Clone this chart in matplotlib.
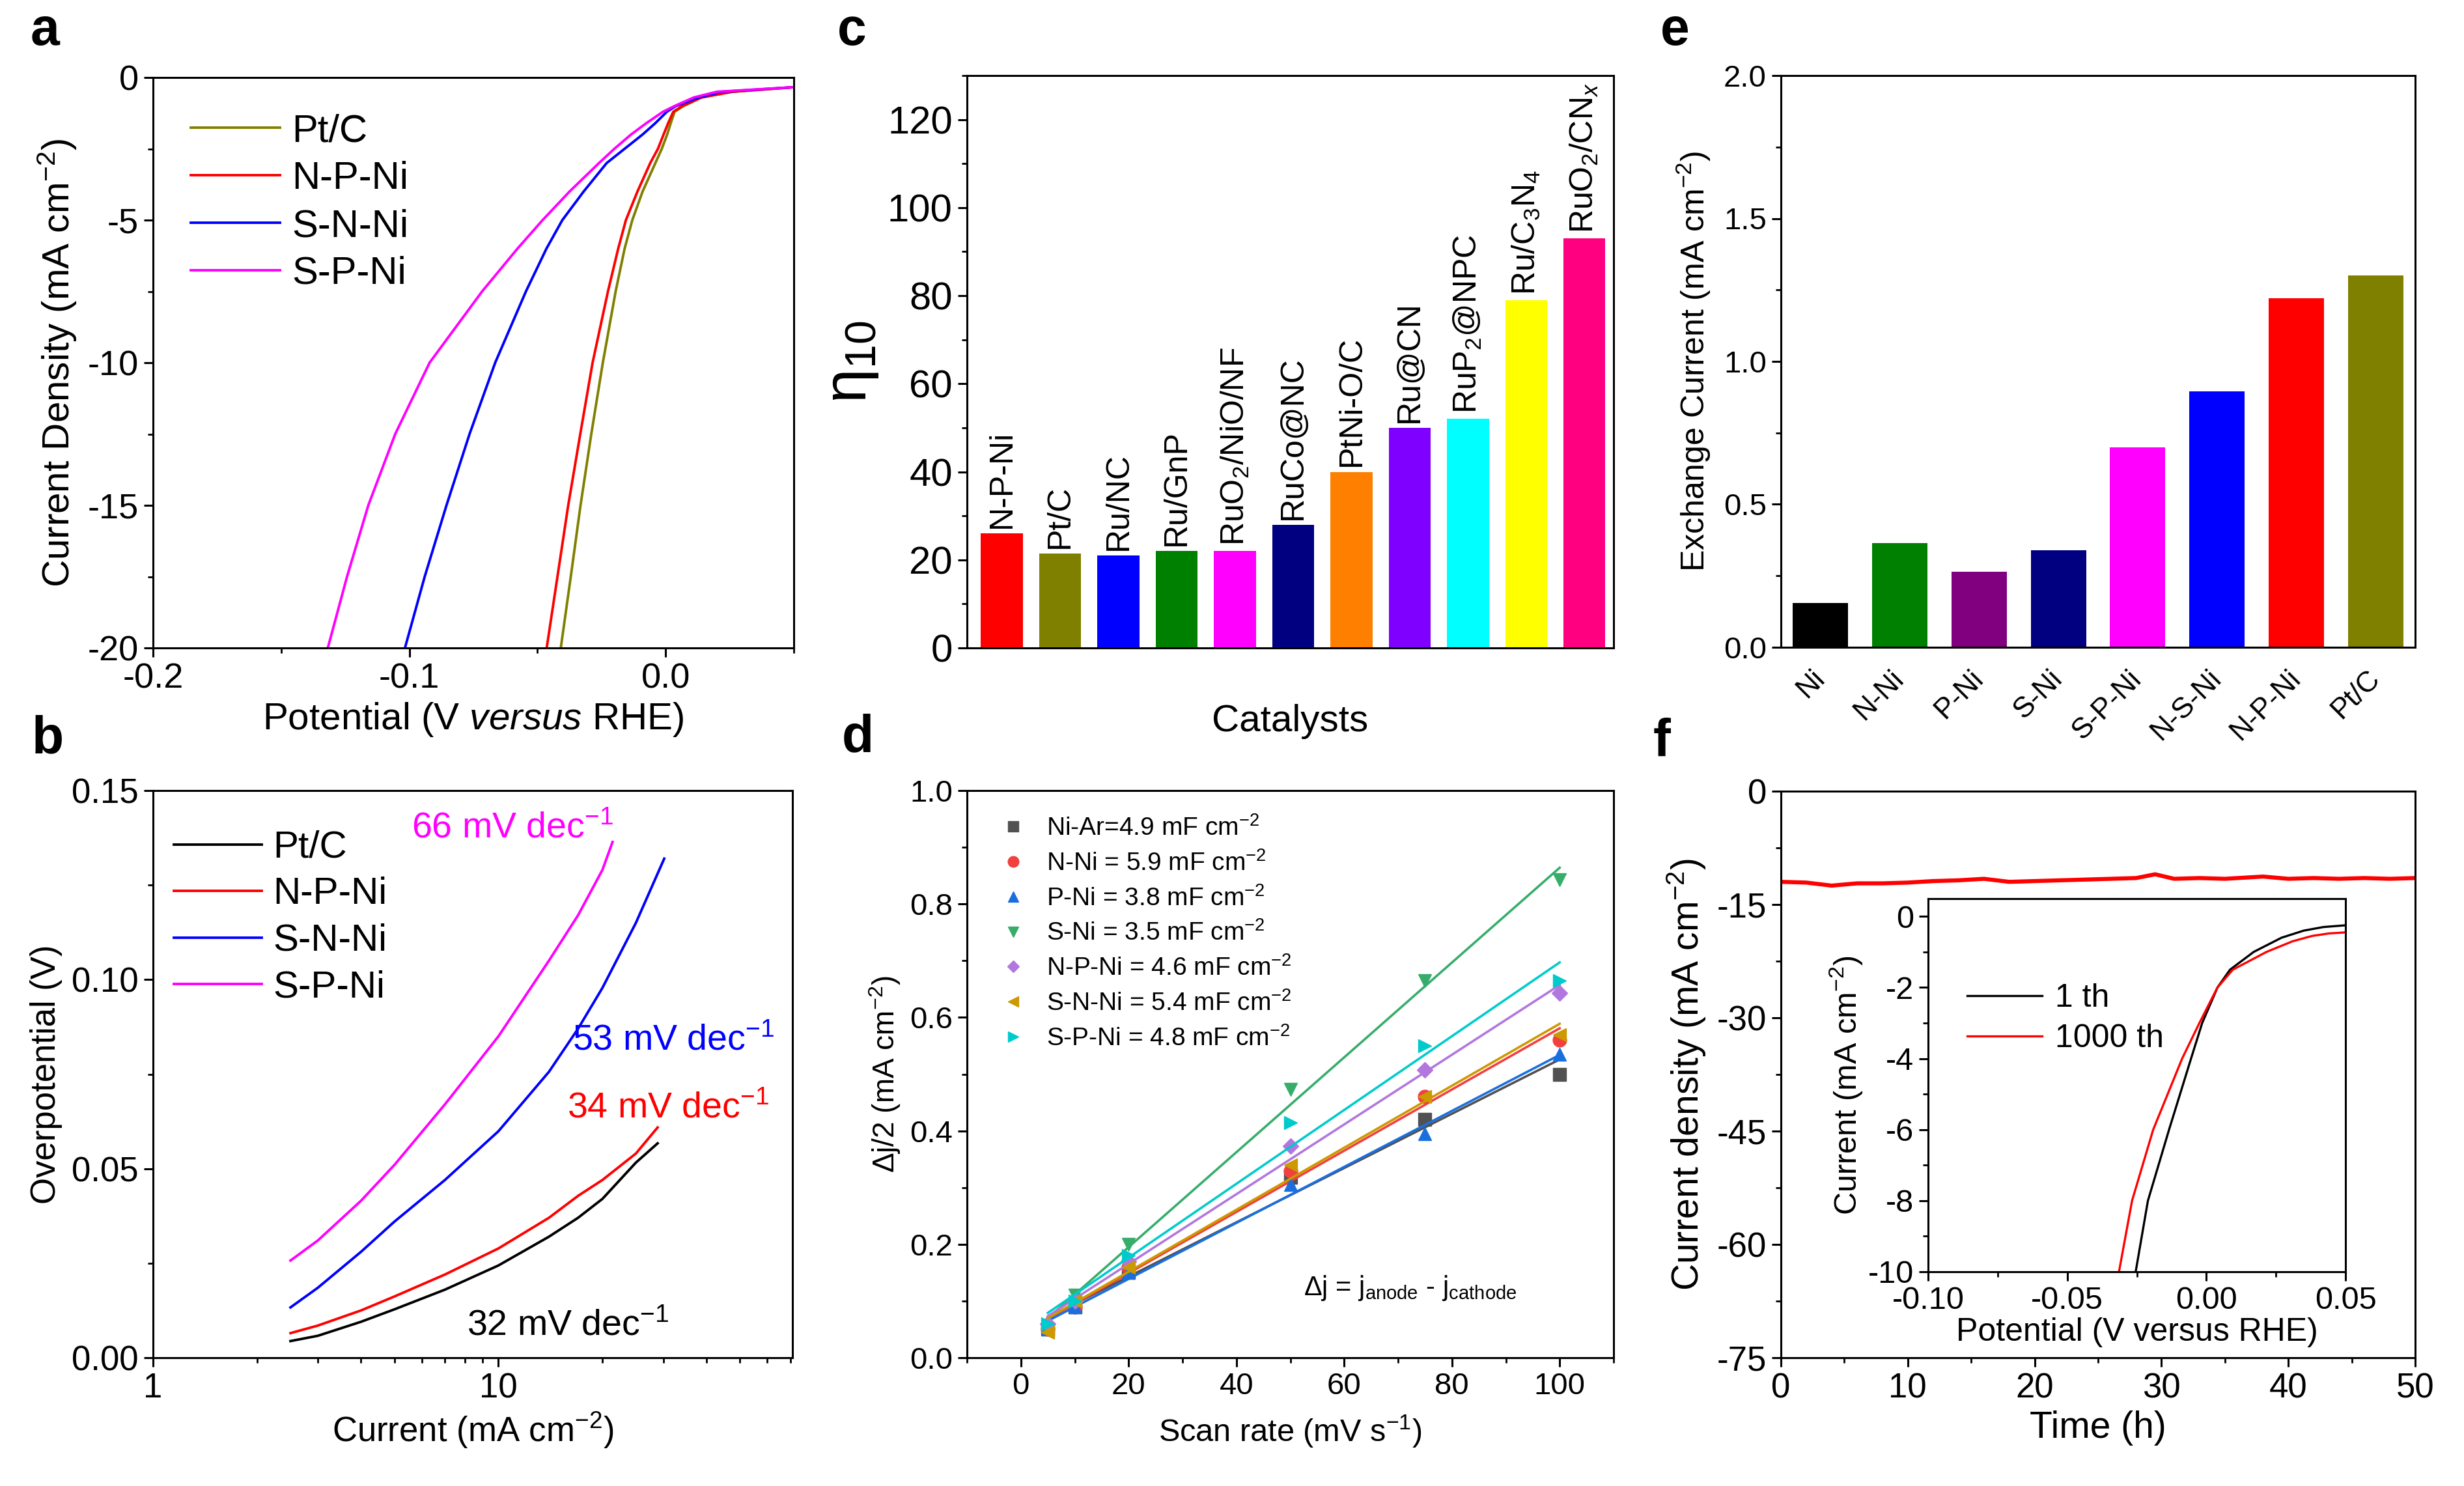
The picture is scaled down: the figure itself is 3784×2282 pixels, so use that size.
import numpy as np
import matplotlib.pyplot as plt
from matplotlib.ticker import MultipleLocator, LogLocator, NullFormatter

plt.rcParams['font.family'] = ['Liberation Sans', 'DejaVu Sans']
plt.rcParams['mathtext.fontset'] = 'custom'
plt.rcParams['mathtext.rm'] = 'Liberation Sans'
plt.rcParams['mathtext.it'] = 'Liberation Sans:italic'
plt.rcParams['mathtext.bf'] = 'Liberation Sans:bold'
plt.rcParams['axes.linewidth'] = 2.2
plt.rcParams['axes.unicode_minus'] = False

# ---- panel a: polarisation curves
a_names = ['Pt/C', 'N-P-Ni', 'S-N-Ni', 'S-P-Ni']
a_colors = ['#808000', '#FF0000', '#0000FF', '#FF00FF']
a_current = [-0.34, -0.5, -0.7, -1.0, -1.2, -1.6, -2, -2.5, -3, -4, -5, -6, -7.5, -10, -12.5, -15, -17.5, -20]
a_pt_c = [0.05, 0.026, 0.014, 0.007, 0.0035, 0.002, 0.0006, -0.0015, -0.004, -0.009, -0.013, -0.016,
          -0.0195, -0.0245, -0.029, -0.0332, -0.037, -0.0409]
a_npni = [0.05, 0.026, 0.014, 0.0065, 0.003, 0.001, -0.0008, -0.003, -0.006, -0.011, -0.0155, -0.0185,
          -0.0225, -0.0285, -0.0333, -0.038, -0.0422, -0.0464]
a_snni = [0.05, 0.022, 0.013, 0.004, 0.0005, -0.004, -0.009, -0.016, -0.023, -0.032, -0.0403, -0.0465,
          -0.0545, -0.0665, -0.0765, -0.0855, -0.094, -0.1017]
a_spni = [0.05, 0.02, 0.011, 0.0035, -0.001, -0.0075, -0.0135, -0.020, -0.026, -0.0375, -0.048, -0.0578,
          -0.0716, -0.0921, -0.1055, -0.116, -0.1243, -0.1318]

# ---- panel b: Tafel plots
b_names = ['Pt/C', 'N-P-Ni', 'S-N-Ni', 'S-P-Ni']
b_colors = ['#000000', '#FF0000', '#0000FF', '#FF00FF']
b_x_pt_c = [2.5, 3, 4, 5, 7, 10, 14, 17, 20, 25, 28.9]
b_y_pt_c = [0.0044, 0.0058, 0.0095, 0.0128, 0.018, 0.0244, 0.032, 0.037, 0.042, 0.0516, 0.0567]
b_x_npni = [2.5, 3, 4, 5, 7, 10, 14, 17, 20, 25, 28.9]
b_y_npni = [0.0065, 0.0085, 0.0125, 0.0162, 0.022, 0.0289, 0.037, 0.0428, 0.047, 0.054, 0.0609]
b_x_snni = [2.5, 3, 4, 5, 7, 10, 14, 17, 20, 25, 30.2]
b_y_snni = [0.0133, 0.0185, 0.028, 0.036, 0.047, 0.0599, 0.0756, 0.087, 0.0978, 0.115, 0.132]
b_x_spni = [2.5, 3, 4, 5, 7, 10, 14, 17, 20, 21.4]
b_y_spni = [0.0257, 0.031, 0.0415, 0.051, 0.067, 0.085, 0.105, 0.117, 0.129, 0.1364]
b_slopes = ['66', '53', '34', '32']
b_slope_pos = [(5.6, 0.140, '#FF00FF'), (16.4, 0.0838, '#0000FF'), (15.8, 0.066, '#FF0000'), (8.1, 0.0085, '#000000')]

# ---- panel c: overpotential at 10 mA cm-2
c_cats = ['N-P-Ni', 'Pt/C', 'Ru/NC', 'Ru/GnP', 'RuO$_2$/NiO/NF', 'RuCo@NC', 'PtNi-O/C',
          'Ru@CN', 'RuP$_2$@NPC', 'Ru/C$_3$N$_4$', 'RuO$_2$/CN$_x$']
c_vals = [26, 21.5, 21, 22, 22, 28, 40, 50, 52, 79, 93]
c_colors = ['#FF0000', '#808000', '#0000FF', '#008000', '#FF00FF', '#000080', '#FF8000',
            '#8000FF', '#00FFFF', '#FFFF00', '#FF0080']

# ---- panel d: double-layer capacitance
d_rate = [5, 10, 20, 50, 75, 100]
d_labels = ['Ni-Ar=4.9 mF cm$^{-2}$', 'N-Ni = 5.9 mF cm$^{-2}$', 'P-Ni = 3.8 mF cm$^{-2}$',
            'S-Ni = 3.5 mF cm$^{-2}$', 'N-P-Ni = 4.6 mF cm$^{-2}$', 'S-N-Ni = 5.4 mF cm$^{-2}$',
            'S-P-Ni = 4.8 mF cm$^{-2}$']
d_ni_ar = [0.05, 0.09, 0.15, 0.318, 0.42, 0.50]
d_n_ni = [0.05, 0.09, 0.16, 0.33, 0.46, 0.56]
d_p_ni = [0.05, 0.09, 0.15, 0.305, 0.395, 0.535]
d_s_ni = [0.05, 0.11, 0.20, 0.473, 0.665, 0.843]
d_np_ni = [0.06, 0.10, 0.17, 0.373, 0.507, 0.643]
d_sn_ni = [0.045, 0.10, 0.16, 0.34, 0.46, 0.57]
d_sp_ni = [0.06, 0.10, 0.18, 0.415, 0.55, 0.665]
d_markers = ['s', 'o', '^', 'v', 'D', '<', '>']
d_colors = ['#515151', '#F14040', '#1A6FDF', '#37AD6B', '#B177DE', '#CC9900', '#00CBCC']

# ---- panel e: exchange current
e_cats = ['Ni', 'N-Ni', 'P-Ni', 'S-Ni', 'S-P-Ni', 'N-S-Ni', 'N-P-Ni', 'Pt/C']
e_vals = [0.155, 0.365, 0.265, 0.34, 0.70, 0.895, 1.22, 1.30]
e_colors = ['#000000', '#008000', '#800080', '#000080', '#FF00FF', '#0000FF', '#FF0000', '#808000']

# ---- panel f: stability
f_time = [0, 2, 4, 6, 8, 10, 12, 14, 16, 18, 20, 22, 24, 26, 28, 29.5, 31, 33, 35, 37, 38, 40, 42, 44, 46, 48, 50]
f_curr = [-12.0, -12.1, -12.5, -12.2, -12.2, -12.1, -11.9, -11.8, -11.6, -12.0, -11.9, -11.8, -11.7,
          -11.6, -11.5, -11.0, -11.6, -11.5, -11.6, -11.4, -11.3, -11.6, -11.5, -11.6, -11.5, -11.6, -11.5]
inset_names = ['1 th', '1000 th']
inset_colors = ['#000000', '#FF0000']
inset_i_1 = [-10, -8, -6, -4, -3, -2, -1.5, -1, -0.6, -0.4, -0.3, -0.25]
inset_v_1 = [-0.0254, -0.021, -0.0134, -0.0055, -0.0015, 0.004, 0.0085, 0.017, 0.027, 0.035, 0.042, 0.05]
inset_i_1000 = [-10, -8, -6, -4, -3, -2, -1.5, -1, -0.7, -0.55, -0.48, -0.45]
inset_v_1000 = [-0.0314, -0.0267, -0.0191, -0.0087, -0.0025, 0.004, 0.0095, 0.0216, 0.031, 0.038, 0.044, 0.05]

W, H = 3784, 2282
fig = plt.figure(figsize=(W / 100, H / 100), dpi=100)


def box(x0, y0, x1, y1):
    return fig.add_axes([x0 / W, 1 - y1 / H, (x1 - x0) / W, (y1 - y0) / H])


def style(ax, size):
    ax.tick_params(which='major', direction='out', length=10, width=2.2, labelsize=size,
                   top=False, right=False, pad=6)
    ax.tick_params(which='minor', direction='out', length=6, width=2.0, top=False, right=False)


# panel a
ax = box(235, 119, 1219, 995)
for v, c, n in zip([a_pt_c, a_npni, a_snni, a_spni], a_colors, a_names):
    ax.plot(v, a_current, color=c, lw=2.8, label=n)
ax.set_xlim(-0.2, 0.05)
ax.set_ylim(-20, 0)
ax.xaxis.set_major_locator(MultipleLocator(0.1))
ax.xaxis.set_minor_locator(MultipleLocator(0.05))
ax.yaxis.set_major_locator(MultipleLocator(5))
ax.yaxis.set_minor_locator(MultipleLocator(2.5))
ax.xaxis.set_major_formatter(plt.FuncFormatter(lambda v, p: f'{v:.1f}'))
style(ax, 39)
ax.set_xlabel('Potential (V $\\it{versus}$ RHE)', fontsize=42, labelpad=6)
ax.set_ylabel('Current Density (mA cm$^{-2}$)', fontsize=42, labelpad=10)
ax.legend(loc='upper left', bbox_to_anchor=(0.059, 0.937), frameon=False, fontsize=43,
          handlelength=2.3, handletextpad=0.3, labelspacing=0.3, borderpad=0, borderaxespad=0)

# panel b
ax = box(235, 1214, 1217, 2085)
b_xs = [b_x_pt_c, b_x_npni, b_x_snni, b_x_spni]
b_ys = [b_y_pt_c, b_y_npni, b_y_snni, b_y_spni]
for x, y, c, n in zip(b_xs, b_ys, b_colors, b_names):
    ax.plot(x, y, color=c, lw=2.8, label=n)
ax.set_xscale('log')
ax.set_xlim(1, 71)
ax.set_ylim(0, 0.15)
ax.xaxis.set_major_locator(LogLocator(base=10, numticks=5))
ax.xaxis.set_minor_locator(LogLocator(base=10, subs=np.arange(2, 10), numticks=20))
ax.xaxis.set_minor_formatter(NullFormatter())
ax.xaxis.set_major_formatter(plt.FuncFormatter(lambda v, p: f'{v:g}'))
ax.yaxis.set_major_locator(MultipleLocator(0.05))
ax.yaxis.set_minor_locator(MultipleLocator(0.025))
ax.yaxis.set_major_formatter(plt.FuncFormatter(lambda v, p: f'{v:.2f}'))
style(ax, 38)
ax.set_xlabel('Current (mA cm$^{-2}$)', fontsize=38, labelpad=6)
ax.set_ylabel('Overpotential (V)', fontsize=38, labelpad=10)
for s, (x, y, c) in zip(b_slopes, b_slope_pos):
    ax.text(x, y, s + ' mV dec$^{-1}$', color=c, fontsize=40, va='center', ha='left')
ax.legend(loc='upper left', bbox_to_anchor=(0.033, 0.93), frameon=False, fontsize=42,
          handlelength=2.3, handletextpad=0.3, labelspacing=0.3, borderpad=0, borderaxespad=0)

# panel c
ax = box(1485, 116, 2478, 995)
xc = np.arange(len(c_vals))
ax.bar(xc, c_vals, width=0.72, color=c_colors)
for x, v, t in zip(xc, c_vals, c_cats):
    ax.text(x, v + 1.2, t, rotation=90, ha='center', va='bottom', fontsize=36)
ax.set_xlim(-0.6, 10.5)
ax.set_ylim(0, 130)
ax.set_xticks([])
ax.yaxis.set_major_locator(MultipleLocator(20))
ax.yaxis.set_minor_locator(MultipleLocator(10))
style(ax, 43)
ax.set_xlabel('Catalysts', fontsize=42, labelpad=62)
ax.set_ylabel('η$_{10}$', fontsize=68, labelpad=8)

# panel d
ax = box(1485, 1214, 2478, 2085)
d_series = [d_ni_ar, d_n_ni, d_p_ni, d_s_ni, d_np_ni, d_sn_ni, d_sp_ni]
xr = np.array([5, 100])
for y, m, c, lab in zip(d_series, d_markers, d_colors, d_labels):
    k, b0 = np.polyfit(d_rate, y, 1)
    ax.plot(xr, k * xr + b0, color=c, lw=2.6)
    ax.plot(d_rate, y, ls='none', marker=m, ms=15 if m != 'D' else 12, color=c, label=lab)
ax.set_xlim(-10, 110)
ax.set_ylim(0, 1.0)
ax.xaxis.set_major_locator(MultipleLocator(20))
ax.xaxis.set_minor_locator(MultipleLocator(10))
ax.yaxis.set_major_locator(MultipleLocator(0.2))
ax.yaxis.set_minor_locator(MultipleLocator(0.1))
ax.yaxis.set_major_formatter(plt.FuncFormatter(lambda v, p: f'{v:.1f}'))
style(ax, 34)
ax.set_xlabel('Scan rate (mV s$^{-1}$)', fontsize=35, labelpad=14)
ax.set_ylabel('Δj/2 (mA cm$^{-2}$)', fontsize=33, labelpad=8)
ax.text(52.5, 0.123, 'Δj = j$_{\\rm anode}$ - j$_{\\rm cathode}$', fontsize=30, va='center')
ax.legend(loc='upper left', bbox_to_anchor=(0.052, 0.955), frameon=False, fontsize=28,
          handlelength=1.0, handletextpad=0.8, labelspacing=0.41, markerscale=0.8,
          borderpad=0, borderaxespad=0)

# panel e
ax = box(2735, 116, 3709, 994)
xe = np.arange(len(e_vals))
ax.bar(xe, e_vals, width=0.7, color=e_colors)
ax.set_xlim(-0.5, 7.5)
ax.set_ylim(0, 2.0)
ax.set_xticks(xe)
ax.set_xticklabels(e_cats, rotation=45, ha='right', va='center', rotation_mode='anchor')
ax.yaxis.set_major_locator(MultipleLocator(0.5))
ax.yaxis.set_minor_locator(MultipleLocator(0.25))
ax.yaxis.set_major_formatter(plt.FuncFormatter(lambda v, p: f'{v:.1f}'))
style(ax, 34)
ax.tick_params(axis='x', length=0, labelsize=32, pad=30)
ax.set_ylabel('Exchange Current (mA cm$^{-2}$)', fontsize=36, labelpad=12)

# panel f
ax = box(2735, 1215, 3709, 2085)
ax.plot(f_time, f_curr, color='#FF0000', lw=4.5)
ax.set_xlim(0, 50)
ax.set_ylim(-75, 0)
ax.xaxis.set_major_locator(MultipleLocator(10))
ax.xaxis.set_minor_locator(MultipleLocator(5))
ax.yaxis.set_major_locator(MultipleLocator(15))
ax.yaxis.set_minor_locator(MultipleLocator(7.5))
style(ax, 38)
ax.set_xlabel('Time (h)', fontsize=41, labelpad=6)
ax.set_ylabel('Current density (mA cm$^{-2}$)', fontsize=41, labelpad=10)

ins = box(2961, 1380, 3602, 1953)
ins.plot(inset_v_1, inset_i_1, color=inset_colors[0], lw=2.4, label=inset_names[0])
ins.plot(inset_v_1000, inset_i_1000, color=inset_colors[1], lw=2.4, label=inset_names[1])
ins.set_xlim(-0.10, 0.05)
ins.set_ylim(-10, 0.5)
ins.xaxis.set_major_locator(MultipleLocator(0.05))
ins.xaxis.set_minor_locator(MultipleLocator(0.025))
ins.yaxis.set_major_locator(MultipleLocator(2))
ins.yaxis.set_minor_locator(MultipleLocator(1))
ins.xaxis.set_major_formatter(plt.FuncFormatter(lambda v, p: f'{v:.2f}'))
style(ins, 35)
ins.set_xlabel('Potential (V versus RHE)', fontsize=36, labelpad=2)
ins.set_ylabel('Current (mA cm$^{-2}$)', fontsize=35, labelpad=4)
ins.legend(loc='upper left', bbox_to_anchor=(0.094, 0.773), frameon=False, fontsize=36,
           handlelength=2.3, handletextpad=0.4, labelspacing=0.32, borderpad=0, borderaxespad=0)

# panel letters
for t, x, y in [('a', 69, 48), ('c', 1308, 48), ('e', 2572, 48),
                ('b', 73, 1135), ('d', 1317, 1133), ('f', 2552, 1140)]:
    fig.text(x / W, 1 - y / H, t, fontsize=58, fontweight='bold', ha='center', va='center')

fig.savefig('out.png', dpi=100)
